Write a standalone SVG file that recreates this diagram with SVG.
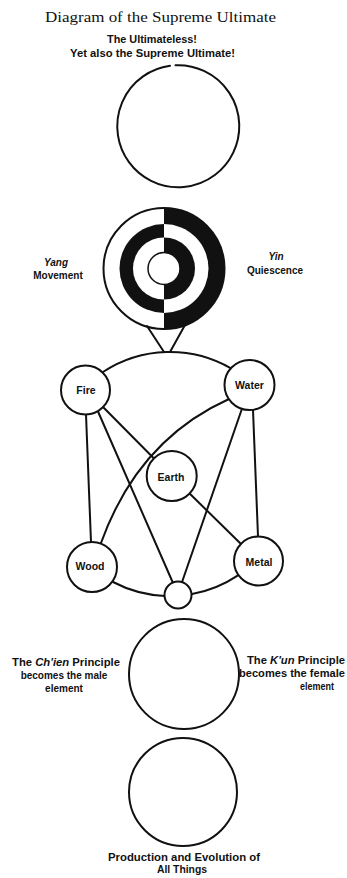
<svg xmlns="http://www.w3.org/2000/svg" width="347" height="878" viewBox="0 0 347 878">
<style>
  .bg{fill:#ffffff}
  .ln{fill:none;stroke:#111;stroke-width:2;stroke-linecap:round}
  .nd{fill:#fff;stroke:#111;stroke-width:2}
  .blk{fill:#111;stroke:none}
  .wht{fill:#fff;stroke:none}
  .title{font-family:"Liberation Serif","DejaVu Serif",serif;font-size:15px;fill:#111}
  .lbl{font-family:"Liberation Sans","DejaVu Sans",sans-serif;font-weight:bold;font-size:10px;fill:#111}
  .el{font-family:"Liberation Sans","DejaVu Sans",sans-serif;font-weight:bold;font-size:10.5px;fill:#111;text-anchor:middle}
  .it{font-style:italic}
</style>
<rect class="bg" x="0" y="0" width="347" height="878"/>

<g id="title">
  <text class="title" x="45" y="22" textLength="231" lengthAdjust="spacingAndGlyphs">Diagram of the Supreme Ultimate</text>
</g>

<g id="ultimateless">
  <text class="lbl" x="107" y="43" textLength="90" lengthAdjust="spacingAndGlyphs">The Ultimateless!</text>
  <text class="lbl" x="70" y="57" textLength="165" lengthAdjust="spacingAndGlyphs">Yet also the Supreme Ultimate!</text>
  <path class="ln" d="M 175.5 65.3 A 61 61 0 1 1 170 65.8"/>
</g>

<g id="yinyang">
  <circle class="wht" cx="164" cy="268.5" r="60.5"/>
  <path class="blk" d="M 164 208 A 60.5 60.5 0 0 1 164 329 Z"/>
  <circle class="wht" cx="164" cy="268.5" r="44.5"/>
  <path class="blk" d="M 164 224 A 44.5 44.5 0 0 0 164 313 Z"/>
  <circle class="wht" cx="164" cy="268.5" r="31"/>
  <path class="blk" d="M 164 237.5 A 31 31 0 0 1 164 299.5 Z"/>
  <circle cx="164" cy="268.5" r="16" fill="#fff" stroke="#111" stroke-width="1.5"/>
  <circle cx="164" cy="268.5" r="60.5" fill="none" stroke="#111" stroke-width="2"/>
  <text class="lbl it" x="56" y="266" text-anchor="middle" font-size="9">Yang</text>
  <text class="lbl" x="58" y="279" text-anchor="middle" font-size="9">Movement</text>
  <text class="lbl it" x="276" y="260" text-anchor="middle" font-size="9">Yin</text>
  <text class="lbl" x="275" y="274" text-anchor="middle" font-size="9">Quiescence</text>
</g>

<g id="connectors">
  <path class="ln" d="M 147 326 L 164 352"/>
  <path class="ln" d="M 185 325 L 170 352"/>
  <path class="ln" d="M 103 372 A 122 122 0 0 1 231 368.3"/>
  <path class="ln" d="M 113 582 A 122 122 0 0 0 165 595.9"/>
  <path class="ln" d="M 191 594.2 A 122 122 0 0 0 238 575.3"/>
  <path class="ln" d="M 86 414.5 L 91 542"/>
  <path class="ln" d="M 98 411.5 L 173 583"/>
  <path class="ln" d="M 103 407 L 154 458.5"/>
  <path class="ln" d="M 189.6 493.5 L 241 544"/>
  <path class="ln" d="M 229 399 Q 138 440 101 543"/>
  <path class="ln" d="M 241.7 409.5 L 181.7 583"/>
  <path class="ln" d="M 253 410 L 258 536.5"/>
</g>

<g id="fire"><circle class="nd" cx="85.5" cy="390" r="24.5"/><text class="el" x="86" y="394">Fire</text></g>
<g id="water"><circle class="nd" cx="249.5" cy="385" r="25"/><text class="el" x="249.5" y="389">Water</text></g>
<g id="earth"><circle class="nd" cx="171.7" cy="476" r="25"/><text class="el" x="171" y="481">Earth</text></g>
<g id="wood"><circle class="nd" cx="92" cy="567" r="25"/><text class="el" x="90" y="570">Wood</text></g>
<g id="metal"><circle class="nd" cx="258.5" cy="561" r="24.5"/><text class="el" x="259" y="565.5">Metal</text></g>
<g id="junction"><circle class="nd" cx="178" cy="595" r="13.5"/></g>

<g id="qiankun">
  <circle class="nd" cx="184" cy="674" r="55"/>
  <text class="lbl" x="12" y="666" textLength="108" lengthAdjust="spacingAndGlyphs" font-size="9.5">The <tspan class="it">Ch'ien</tspan> Principle</text>
  <text class="lbl" x="64" y="679" text-anchor="middle" font-size="9.5">becomes the male</text>
  <text class="lbl" x="64" y="692" text-anchor="middle" font-size="9.5">element</text>
  <text class="lbl" x="247" y="664" textLength="98" lengthAdjust="spacingAndGlyphs" font-size="9.5">The <tspan class="it">K'un</tspan> Principle</text>
  <text class="lbl" x="239" y="677" textLength="106" lengthAdjust="spacingAndGlyphs" font-size="9.5">becomes the female</text>
  <text class="lbl" x="300" y="690" textLength="34" lengthAdjust="spacingAndGlyphs" font-size="9.5">element</text>
</g>

<g id="allthings">
  <circle class="nd" cx="183" cy="792" r="54"/>
  <text class="lbl" x="108" y="861" textLength="152" lengthAdjust="spacingAndGlyphs">Production and Evolution of</text>
  <text class="lbl" x="157" y="873" textLength="50" lengthAdjust="spacingAndGlyphs">All Things</text>
</g>
</svg>
